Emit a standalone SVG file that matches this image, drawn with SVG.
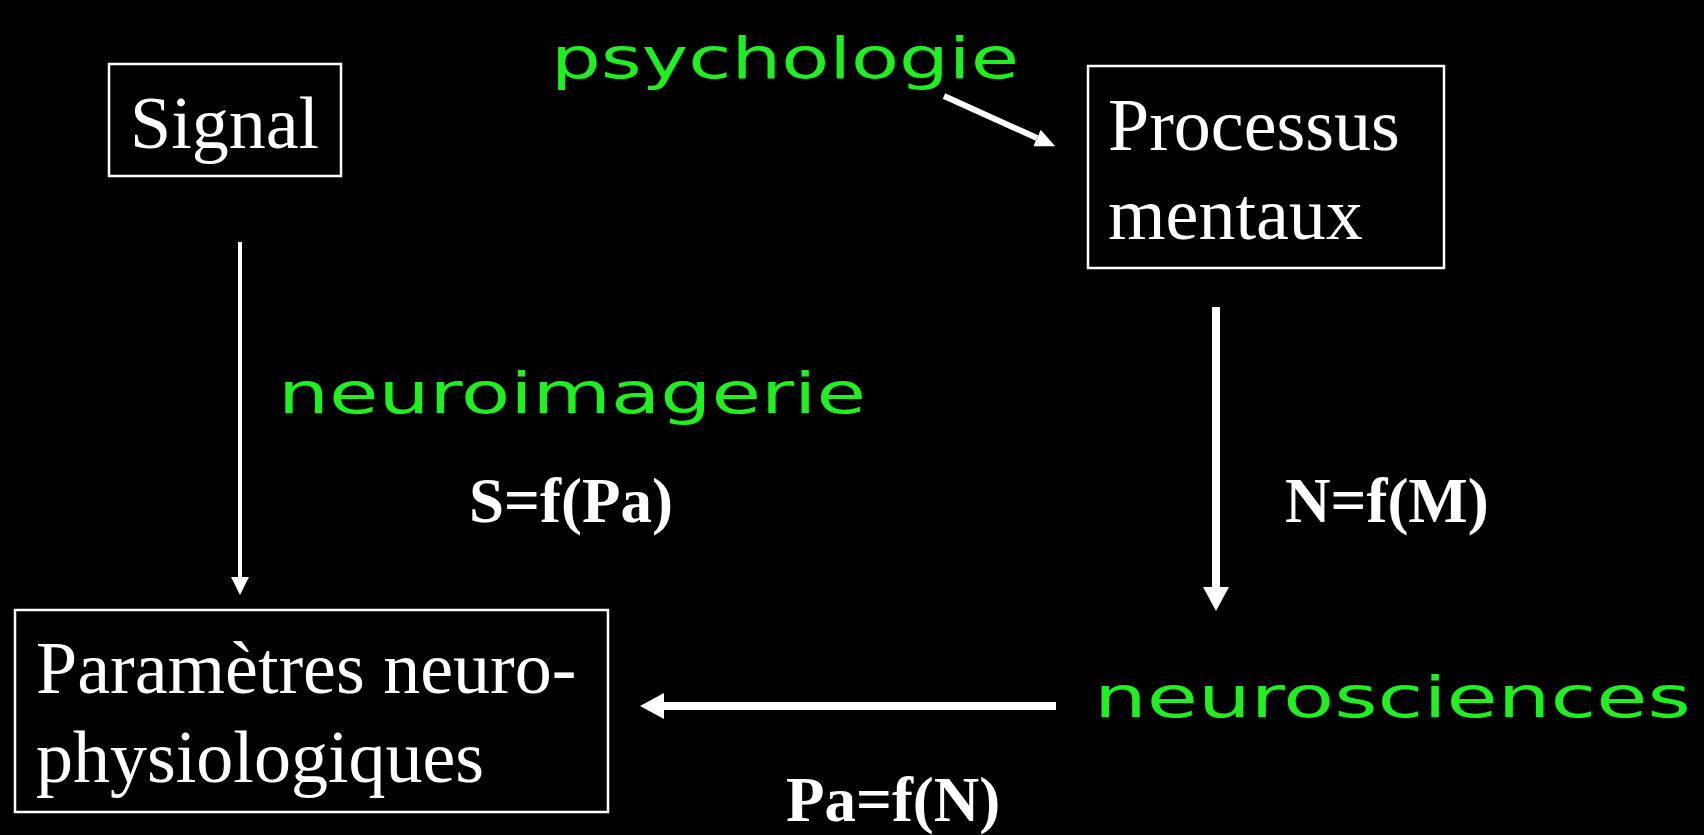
<svg xmlns="http://www.w3.org/2000/svg" width="1704" height="835" viewBox="0 0 1704 835">
<defs>
<style>
.box{fill:#000;stroke:#fff;stroke-width:2.5}
.lbl{font-family:"Liberation Serif","Times New Roman",serif;font-size:74px;fill:#fff}
.eq{font-family:"Liberation Serif","Times New Roman",serif;font-size:63px;font-weight:bold;fill:#fff}
.hand{font-family:"DejaVu Sans","Noto Sans",sans-serif;font-size:57px;fill:#1ff01f}
.thin{stroke:#fff;stroke-width:4;fill:none}
.thick{stroke:#fff;stroke-width:8;fill:none}
.mid{stroke:#fff;stroke-width:6;fill:none}
</style>
<marker id="headS" markerUnits="userSpaceOnUse" markerWidth="18" markerHeight="18" refX="0" refY="9" orient="auto" viewBox="0 0 18 18">
<path d="M0,0 L18,9 L0,18 z" fill="#fff"/>
</marker>
<marker id="headL" markerUnits="userSpaceOnUse" markerWidth="24" markerHeight="26" refX="0" refY="13" orient="auto" viewBox="0 0 24 26">
<path d="M0,0 L24,13 L0,26 z" fill="#fff"/>
</marker>
<marker id="headM" markerUnits="userSpaceOnUse" markerWidth="20" markerHeight="18" refX="0" refY="9" orient="auto" viewBox="0 0 20 18">
<path d="M0,0 L20,9 L0,18 z" fill="#fff"/>
</marker>
</defs>
<rect x="0" y="0" width="1704" height="835" fill="#000"/>

<g id="signal">
<rect class="box" x="109" y="64" width="232" height="112"/>
<text class="lbl" x="130" y="148">Signal</text>
</g>

<g id="processus">
<rect class="box" x="1088" y="66" width="356" height="202"/>
<text class="lbl" x="1108" y="150">Processus</text>
<text class="lbl" x="1108" y="239">mentaux</text>
</g>

<g id="parametres">
<rect class="box" x="15" y="610" width="593" height="202"/>
<text class="lbl" x="36" y="693">Paramètres neuro-</text>
<text class="lbl" x="36" y="782">physiologiques</text>
</g>

<g id="psychologie">
<text class="hand" x="551" y="78" textLength="468" lengthAdjust="spacingAndGlyphs">psychologie</text>
</g>

<g id="neuroimagerie">
<text class="hand" x="278" y="413" textLength="588" lengthAdjust="spacingAndGlyphs">neuroimagerie</text>
</g>

<g id="neurosciences">
<text class="hand" x="1094" y="717" textLength="597" lengthAdjust="spacingAndGlyphs">neurosciences</text>
</g>

<g id="labels">
<text class="eq" x="469" y="522">S=f(Pa)</text>
<text class="eq" x="1285" y="522">N=f(M)</text>
<text class="eq" x="786" y="821">Pa=f(N)</text>
</g>

<g id="connectors">
<line class="thin" x1="240" y1="242" x2="240" y2="577" marker-end="url(#headS)"/>
<line class="thick" x1="1216" y1="307" x2="1216" y2="587" marker-end="url(#headL)"/>
<line class="thick" x1="1056" y1="706" x2="664" y2="706" marker-end="url(#headL)"/>
<line class="mid" x1="944" y1="96" x2="1037" y2="138" marker-end="url(#headM)"/>
</g>
</svg>
